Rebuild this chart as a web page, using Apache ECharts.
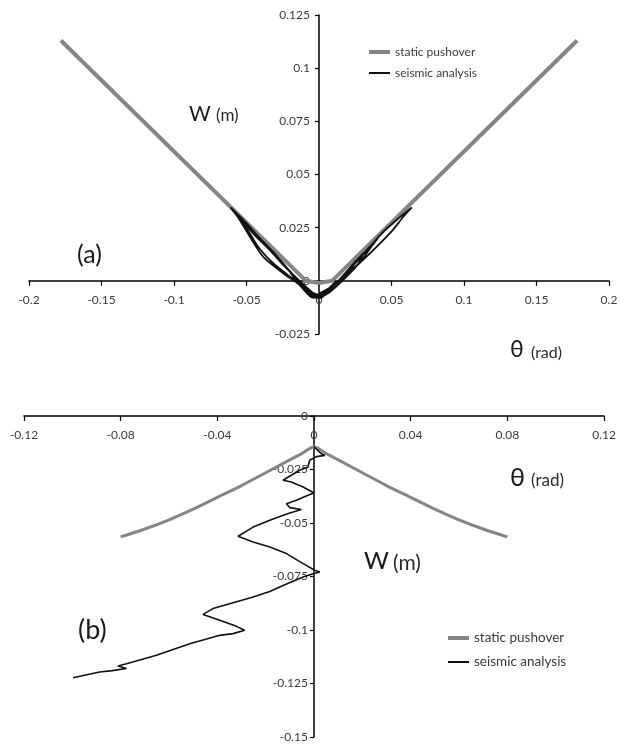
<!DOCTYPE html>
<html>
<head>
<meta charset="utf-8">
<script src="https://cdn.jsdelivr.net/npm/echarts@6/dist/echarts.min.js"></script>
<style>
html,body{margin:0;padding:0;background:#fff;}
#c{width:628px;height:744px;}
</style>
</head>
<body>
<div id="c"></div>
<script>
// ---------- Data ----------
// Axis ranges [min, max, interval]
const xRangeA = [-0.2, 0.2, 0.05];
const yRangeA = [-0.025, 0.125, 0.025];
const xRangeB = [-0.12, 0.12, 0.04];
const yRangeB = [-0.15, 0, 0.025];

const seriesNames = ['static pushover', 'seismic analysis'];

// (a) static pushover
const thetaStaticA = [-0.178, -0.009, 0.0, 0.009, 0.178];
const wStaticA     = [0.113, 0.0, -0.001, 0.0, 0.113];

// (a) seismic analysis
const thetaSeisA = [0.000, 0.008, 0.015, 0.022, 0.030, 0.040, 0.036, 0.028, 0.019, 0.010, 0.002,
  -0.006, -0.014, -0.022, -0.030, -0.040, -0.050, -0.061, -0.055, -0.047, -0.0386, -0.0248, -0.015, -0.006,
  0.000, 0.008, 0.016, 0.025, 0.035, 0.045, 0.055, 0.064, 0.058, 0.051, 0.0397, 0.028, 0.018, 0.009, 0.001,
  -0.007, -0.015, -0.024, -0.034, -0.045, -0.056, -0.050, -0.042, -0.032, -0.022, -0.012, -0.004,
  0.004, 0.012, 0.020, 0.030, 0.026, 0.016, 0.006, -0.002, -0.010, -0.018, -0.012, -0.004, 0.004, 0.010,
  0.002, -0.006, -0.002, -0.012, -0.020, -0.013, -0.005, 0.003, 0.012, 0.006, -0.001];
const wSeisA = [-0.006, -0.003, 0.001, 0.006, 0.012, 0.0195, 0.016, 0.0085, 0.0036, -0.002, -0.007,
  -0.005, 0.000, 0.006, 0.0125, 0.0195, 0.027, 0.0345, 0.029, 0.020, 0.0114, 0.0036, -0.001, -0.006,
  -0.008, -0.004, 0.002, 0.009, 0.016, 0.0235, 0.0295, 0.0345, 0.030, 0.024, 0.016, 0.0083, 0.002, -0.003, -0.008,
  -0.004, 0.001, 0.007, 0.0145, 0.022, 0.031, 0.025, 0.016, 0.0085, 0.003, -0.002, -0.007,
  -0.006, -0.001, 0.005, 0.0115, 0.007, 0.000, -0.006, -0.008, -0.003, 0.002, -0.003, -0.008, -0.005, -0.002,
  -0.007, -0.006, -0.007, -0.001, 0.004, -0.002, -0.007, -0.006, 0.000, -0.004, -0.008];

// (b) static pushover
const thetaStaticB = [-0.08, -0.07, -0.06, -0.05, -0.04, -0.03, -0.02, -0.01, -0.005, 0, 0.005, 0.01, 0.02, 0.03, 0.04, 0.05, 0.06, 0.07, 0.08];
const wStaticB     = [-0.0565, -0.0528, -0.0485, -0.0435, -0.038, -0.0325, -0.0265, -0.0205, -0.0175, -0.0145, -0.0175, -0.0205, -0.0265, -0.0325, -0.038, -0.0435, -0.0485, -0.0528, -0.0565];

// (b) seismic analysis
const thetaSeisB = [0, 0.003, 0.0045, 0.001, -0.0018, -0.0025, -0.0059, -0.0094, -0.0128, -0.0094, -0.0045, 0,
  -0.0025, -0.0073, -0.0114, -0.010, -0.0052, -0.0107, -0.0183, -0.0252, -0.0314, -0.0252, -0.0183, -0.0114,
  -0.0045, 0.0003, 0.0024, -0.0004, -0.0045, -0.0114, -0.0183, -0.0252, -0.0349, -0.0418, -0.0459, -0.039,
  -0.0321, -0.0287, -0.0335, -0.039, -0.0514, -0.0652, -0.0776, -0.0811, -0.0776, -0.0835, -0.0887, -0.0997];
const wSeisB = [-0.0145, -0.0176, -0.0184, -0.019, -0.0207, -0.0238, -0.0254, -0.0277, -0.030, -0.0308, -0.0332, -0.036,
  -0.037, -0.0394, -0.041, -0.0428, -0.0437, -0.0456, -0.0487, -0.0519, -0.0562, -0.0589, -0.0612, -0.0643,
  -0.069, -0.0721, -0.0729, -0.0737, -0.0752, -0.0785, -0.082, -0.0846, -0.0877, -0.090, -0.0927, -0.0955,
  -0.0983, -0.1001, -0.1017, -0.1025, -0.1064, -0.1118, -0.1158, -0.1168, -0.118, -0.119, -0.1196, -0.1223];

// ---------- Build ----------
const zip = (xs, ys) => xs.map((x, i) => [x, ys[i]]);
const FONT = 'Lato';
const TICK_COLOR = '#3a3a3a';
const fmt = v => String(+(+v).toFixed(3));

const gridA = { left: 29, top: 15, width: 580, height: 319 };
const gridB = { left: 24, top: 416, width: 580, height: 321 };

// distance (px) from the grid's bottom / left edge to the value 0 of the other axis
const zeroFrom = (r, size) => (0 - r[0]) / (r[1] - r[0]) * size;

function axisX(r, gi, offset) {
  return {
    type: 'value', gridIndex: gi, min: r[0], max: r[1], interval: r[2],
    position: 'bottom', offset: offset,
    axisLine: { onZero: false, lineStyle: { color: '#000', width: 1.5 } },
    axisTick: { show: true, inside: false, length: 5, lineStyle: { color: '#000', width: 1.2 } },
    axisLabel: { margin: 13, fontFamily: FONT, fontSize: 12, color: TICK_COLOR, formatter: fmt },
    splitLine: { show: false }
  };
}
function axisY(r, gi, offset, margin) {
  return {
    type: 'value', gridIndex: gi, min: r[0], max: r[1], interval: r[2],
    position: 'left', offset: offset,
    axisLine: { onZero: false, lineStyle: { color: '#000', width: 1.5 } },
    axisTick: { show: true, inside: false, length: 4, lineStyle: { color: '#000', width: 1.2 } },
    axisLabel: { margin: margin, fontFamily: FONT, fontSize: 12, color: TICK_COLOR, formatter: fmt },
    splitLine: { show: false }
  };
}

function legendItem(name, left, top, h, fs) {
  return {
    data: [{ name: name, icon: 'rect' }],
    left: left, top: top, padding: 0, itemWidth: 21, itemHeight: h, itemGap: 4,
    selectedMode: false,
    textStyle: { fontFamily: FONT, fontSize: fs, color: '#3a3a3a' }
  };
}

function txt(x, y, s, size, color) {
  return { type: 'text', x: x, y: y, z: 10,
    style: { text: s, fontFamily: FONT, fontSize: size, fill: color || '#1a1a1a', verticalAlign: 'middle', align: 'left' } };
}

const option = {
  animation: false,
  backgroundColor: '#fff',
  grid: [gridA, gridB],
  xAxis: [
    axisX(xRangeA, 0, -zeroFrom(yRangeA, gridA.height)),
    axisX(xRangeB, 1, -zeroFrom(yRangeB, gridB.height))
  ],
  yAxis: [
    axisY(yRangeA, 0, -zeroFrom(xRangeA, gridA.width), 9),
    axisY(yRangeB, 1, -zeroFrom(xRangeB, gridB.width), 6)
  ],
  legend: [
    legendItem(seriesNames[0], 369, 46, 4, 12),
    legendItem(seriesNames[1], 369, 67, 2, 12),
    legendItem(seriesNames[0], 448, 631, 4, 13.5),
    legendItem(seriesNames[1], 448, 655, 2, 13.5)
  ],
  color: ['#808080', '#000000'],
  series: [
    { name: seriesNames[0], type: 'line', xAxisIndex: 0, yAxisIndex: 0, data: zip(thetaStaticA, wStaticA),
      symbol: 'none', lineStyle: { color: '#858585', width: 4 }, itemStyle: { color: '#858585' }, z: 2 },
    { name: seriesNames[1], type: 'line', xAxisIndex: 0, yAxisIndex: 0, data: zip(thetaSeisA, wSeisA),
      symbol: 'none', smooth: 0.25, lineStyle: { color: '#111', width: 1.8 }, itemStyle: { color: '#111' }, z: 3 },
    { name: seriesNames[0], type: 'line', xAxisIndex: 1, yAxisIndex: 1, data: zip(thetaStaticB, wStaticB),
      symbol: 'none', smooth: 0.3, lineStyle: { color: '#858585', width: 3 }, itemStyle: { color: '#858585' }, z: 2 },
    { name: seriesNames[1], type: 'line', xAxisIndex: 1, yAxisIndex: 1, data: zip(thetaSeisB, wSeisB),
      symbol: 'none', lineStyle: { color: '#111', width: 1.6 }, itemStyle: { color: '#111' }, z: 3 }
  ],
  graphic: [
    txt(189, 114, 'W', 21),
    txt(216, 116, '(m)', 17, '#2a2a2a'),
    txt(510, 350, 'θ', 23),
    txt(531, 353, '(rad)', 16, '#2a2a2a'),
    txt(77, 255, '(a)', 25),
    txt(364, 561, 'W', 24),
    txt(393, 563, '(m)', 21, '#2a2a2a'),
    txt(510, 478, 'θ', 25),
    txt(531, 481, '(rad)', 17, '#2a2a2a'),
    txt(78, 630, '(b)', 27)
  ]
};

const chart = echarts.init(document.getElementById('c'), null, { renderer: 'canvas' });
chart.setOption(option);
</script>
</body>
</html>
